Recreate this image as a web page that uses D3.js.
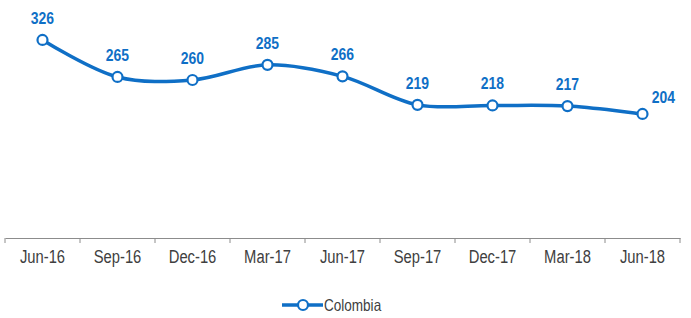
<!DOCTYPE html>
<html>
<head>
<meta charset="utf-8">
<script src="https://cdn.jsdelivr.net/npm/d3@7"></script>
<style>
  body { margin: 0; background: #fff; }
  svg { display: block; }
</style>
</head>
<body>
<div id="chart"></div>
<script>
// quarterly values, Colombia
const categories = ["Jun-16", "Sep-16", "Dec-16", "Mar-17", "Jun-17", "Sep-17", "Dec-17", "Mar-18", "Jun-18"];
const values = [326, 265, 260, 285, 266, 219, 218, 217, 204];
const seriesName = "Colombia";

const width = 691, height = 318;
const blue = "#0F6FC6";
const font = "'Liberation Sans', Arial, sans-serif";

// no narrow font installed: squeeze the glyphs instead
function condense(sel, k) {
    sel.each(function() {
        const w = this.getComputedTextLength();
        d3.select(this).attr("textLength", w * k).attr("lengthAdjust", "spacingAndGlyphs");
    });
}

const svg = d3.select("#chart").append("svg")
    .attr("width", width)
    .attr("height", height);

const x = d3.scaleBand()
    .domain(categories)
    .range([5, 680]);

const y = d3.scaleLinear()
    .domain([0, 350])
    .range([237.7, 25.4]);

// axis line + labels
const xAxis = svg.append("g")
    .attr("transform", "translate(0,238)")
    .call(d3.axisBottom(x).tickSize(0).tickPadding(12));
xAxis.select(".domain").attr("stroke", "#8c8c8c");
xAxis.selectAll("text")
    .attr("font-family", font)
    .attr("font-size", 18)
    .attr("fill", "#404040")
    .call(condense, 0.82);

// category boundary ticks
const bounds = categories.map(c => x(c)).concat([x.range()[1]]);
xAxis.selectAll(".bound")
    .data(bounds)
    .enter().append("line")
    .attr("class", "bound")
    .attr("x1", d => d).attr("x2", d => d)
    .attr("y1", 0).attr("y2", 5)
    .attr("stroke", "#8c8c8c");

const pts = values.map((v, i) => [x(categories[i]) + x.bandwidth() / 2, y(v)]);

const line = d3.line().curve(d3.curveCatmullRom.alpha(0.5));

svg.append("path")
    .attr("d", line(pts))
    .attr("fill", "none")
    .attr("stroke", blue)
    .attr("stroke-width", 3.5);

svg.selectAll(".dot")
    .data(pts)
    .enter().append("circle")
    .attr("class", "dot")
    .attr("cx", d => d[0])
    .attr("cy", d => d[1])
    .attr("r", 5)
    .attr("fill", "#fff")
    .attr("stroke", blue)
    .attr("stroke-width", 2.2);

svg.selectAll(".lbl")
    .data(values)
    .enter().append("text")
    .attr("class", "lbl")
    .attr("x", (d, i) => pts[i][0] + (i === values.length - 1 ? 21 : 0))
    .attr("y", (d, i) => pts[i][1] - (i === values.length - 1 ? 11 : 16))
    .attr("text-anchor", "middle")
    .attr("font-family", font)
    .attr("font-weight", "bold")
    .attr("font-size", 17)
    .attr("fill", blue)
    .text(d => d)
    .call(condense, 0.82);

// legend
const lg = svg.append("g").attr("transform", "translate(282,305)");
lg.append("line")
    .attr("x1", 0).attr("x2", 41)
    .attr("stroke", blue).attr("stroke-width", 3.5);
lg.append("circle")
    .attr("cx", 21).attr("r", 5)
    .attr("fill", "#fff").attr("stroke", blue).attr("stroke-width", 2.2);
lg.append("text")
    .attr("x", 42).attr("y", 5.5)
    .attr("font-family", font)
    .attr("font-size", 16.5)
    .attr("fill", "#404040")
    .text(seriesName)
    .call(condense, 0.82);
</script>
</body>
</html>
